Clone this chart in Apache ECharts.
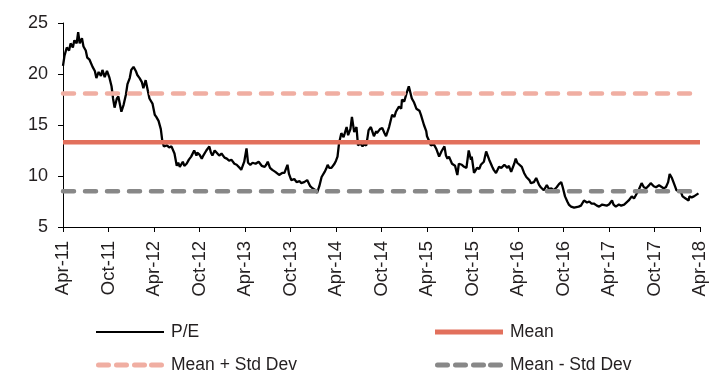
<!DOCTYPE html>
<html>
<head>
<meta charset="utf-8">
<script src="https://cdn.jsdelivr.net/npm/echarts@6/dist/echarts.min.js"></script>
<style>
  html, body { margin: 0; padding: 0; background: #ffffff; }
  #chart { width: 723px; height: 372px; }
</style>
</head>
<body>
<div id="chart"></div>
<script>
// Months elapsed since April 2011, and the P/E reading at each point
const peMonths = [
  0, 0.2, 0.5, 0.8, 1.0, 1.3, 1.5, 1.8, 2.0, 2.2, 2.5, 2.7, 3.0, 3.2, 3.5, 3.9, 4.2, 4.4, 4.7, 5.0,
  5.2, 5.5, 5.8, 6.1, 6.4, 6.6, 6.8, 7.1, 7.3, 7.7, 8.0, 8.3, 8.5, 8.8, 9.0, 9.3, 9.6, 9.8, 10.1, 10.4,
  10.6, 10.9, 11.2, 11.4, 11.8, 12.1, 12.3, 12.6, 12.9, 13.1, 13.3, 13.7, 14.0, 14.3, 14.7, 15.0, 15.2, 15.4, 15.8, 16.0,
  16.3, 16.6, 16.9, 17.3, 17.6, 17.7, 18.0, 18.3, 18.5, 18.9, 19.3, 19.5, 19.7, 20.0, 20.2, 20.6, 20.9, 21.3, 21.6, 21.9,
  22.2, 22.6, 22.9, 23.3, 23.5, 23.9, 24.2, 24.4, 24.7, 25.0, 25.4, 25.8, 26.2, 26.6, 26.8, 27.0, 27.3, 27.6, 28.0, 28.5,
  28.9, 29.2, 29.6, 29.8, 30.1, 30.5, 30.8, 31.2, 31.4, 31.8, 32.2, 32.6, 32.9, 33.3, 33.5, 33.8, 34.1, 34.5, 34.7, 34.9,
  35.1, 35.4, 35.8, 36.0, 36.2, 36.4, 36.7, 37.0, 37.1, 37.4, 37.6, 37.9, 38.1, 38.4, 38.7, 38.9, 39.2, 39.5, 39.7, 40.0,
  40.3, 40.6, 41.0, 41.3, 41.4, 41.8, 42.1, 42.4, 42.6, 43.0, 43.4, 43.7, 43.9, 44.3, 44.6, 44.7, 45.0, 45.3, 45.5, 45.6,
  45.9, 46.0, 46.3, 46.6, 47.0, 47.2, 47.6, 47.9, 48.0, 48.3, 48.5, 48.9, 49.2, 49.6, 49.9, 50.3, 50.5, 50.7, 50.9, 51.3,
  51.7, 52.0, 52.2, 52.6, 52.9, 53.2, 53.5, 53.8, 53.9, 54.2, 54.6, 54.9, 55.1, 55.5, 55.8, 56.0, 56.2, 56.6, 56.8, 57.1,
  57.5, 57.8, 58.2, 58.6, 58.8, 59.1, 59.5, 59.7, 59.9, 60.1, 60.5, 60.8, 61.1, 61.5, 61.7, 62.1, 62.4, 62.5, 62.8, 63.0,
  63.4, 63.8, 64.1, 64.4, 64.7, 65.1, 65.4, 65.7, 65.9, 66.2, 66.5, 66.7, 67.0, 67.4, 67.6, 68.0, 68.3, 68.7, 69.1, 69.4,
  69.7, 70.0, 70.4, 70.7, 71.1, 71.3, 71.7, 72.0, 72.4, 72.6, 72.9, 73.3, 73.6, 74.0, 74.2, 74.6, 75.0, 75.3, 75.5, 75.9,
  76.3, 76.6, 76.9, 77.3, 77.5, 77.9, 78.2, 78.6, 78.8, 79.2, 79.5, 79.8, 80.0, 80.3, 80.4, 80.7, 80.9, 81.2, 81.5, 81.7,
  82.1, 82.5, 82.6, 82.9, 83.2, 83.4, 83.8
];
const peValues = [
  20.8, 21.8, 22.6, 22.3, 23.0, 22.6, 23.3, 23.0, 24.1, 23.0, 23.5, 22.7, 22.3, 21.6, 21.4, 20.7, 20.3, 19.6, 20.2, 19.8,
  20.4, 19.7, 20.3, 19.7, 18.8, 17.6, 16.7, 17.6, 17.8, 16.3, 17.0, 18.0, 19.0, 19.6, 20.4, 20.7, 20.3, 19.9, 19.6, 19.2,
  18.6, 19.4, 18.3, 17.6, 17.1, 16.0, 15.8, 15.4, 14.6, 13.4, 12.9, 13.0, 12.8, 12.9, 12.2, 11.0, 11.3, 10.9, 11.4, 11.0,
  11.2, 11.6, 11.9, 12.5, 12.0, 12.3, 12.1, 11.7, 12.0, 12.5, 12.9, 12.3, 12.0, 12.5, 12.4, 12.0, 12.2, 11.8, 11.7, 11.5,
  11.6, 11.2, 11.1, 10.8, 10.6, 11.4, 12.7, 11.3, 11.1, 11.3, 11.2, 11.4, 11.0, 10.9, 11.1, 11.4, 10.8, 10.6, 10.4, 10.1,
  10.3, 10.3, 11.1, 10.2, 9.6, 9.7, 9.4, 9.5, 9.3, 9.4, 9.6, 9.0, 8.8, 8.6, 8.35, 9.0, 9.9, 10.4, 10.7, 11.1,
  10.8, 10.8, 11.2, 11.5, 11.9, 13.2, 14.2, 13.8, 13.9, 14.8, 14.0, 14.6, 15.8, 14.3, 14.8, 13.0, 13.2, 12.9, 13.1, 13.0,
  14.5, 14.8, 13.9, 14.4, 14.2, 14.6, 14.7, 14.2, 13.9, 14.8, 16.0, 15.8, 16.3, 16.8, 16.6, 17.5, 17.3, 18.1, 18.0, 18.8,
  17.9, 17.6, 17.2, 16.6, 16.4, 16.0, 15.0, 14.4, 13.9, 13.4, 13.0, 13.1, 12.7, 11.9, 12.4, 12.9, 12.0, 11.7, 11.9, 11.2,
  11.0, 10.1, 11.2, 11.1, 10.9, 10.8, 12.5, 11.6, 11.9, 10.3, 10.8, 10.7, 11.1, 11.4, 12.4, 12.3, 11.6, 10.9, 10.6, 10.3,
  10.9, 10.8, 11.1, 10.8, 11.0, 10.4, 11.2, 11.7, 11.3, 11.2, 10.9, 10.3, 9.9, 9.6, 9.3, 9.4, 9.8, 9.7, 9.1, 8.9,
  8.6, 9.1, 8.7, 8.8, 8.6, 8.9, 9.2, 9.4, 8.9, 8.0, 7.5, 7.2, 7.0, 6.9, 6.8, 7.0, 7.1, 7.6, 7.4, 7.5,
  7.3, 7.3, 7.1, 7.0, 7.2, 7.3, 7.1, 7.2, 7.6, 7.2, 7.0, 7.2, 7.1, 7.2, 7.3, 7.6, 8.0, 7.8, 7.9, 8.6,
  9.3, 8.9, 8.8, 9.1, 9.3, 9.0, 8.9, 9.1, 9.1, 8.8, 8.9, 9.4, 10.2, 9.8, 9.6, 9.0, 8.6, 8.5, 8.4, 8.0,
  7.8, 7.6, 8.0, 7.9, 8.0, 8.1, 8.3
];

// Long-run average and one standard deviation band
const peMean = 13.3;
const peStd = 4.8;

// Tick labels every six months, Apr-11 through Apr-18
const tickLabels = [
  'Apr-11', 'Oct-11', 'Apr-12', 'Oct-12', 'Apr-13', 'Oct-13', 'Apr-14', 'Oct-14',
  'Apr-15', 'Oct-15', 'Apr-16', 'Oct-16', 'Apr-17', 'Oct-17', 'Apr-18'
];
const yTicks = [5, 10, 15, 20, 25];

const seriesNames = ['P/E', 'Mean', 'Mean + Std Dev', 'Mean - Std Dev'];
const spanEnd = (tickLabels.length - 1) * 6;

const peData = peMonths.map((m, i) => [m, peValues[i]]);
const flat = v => [[0, v], [spanEnd, v]];

const FONT = 'Liberation Sans';
const TEXT = '#231f20';
const COLORS = { pe: '#000000', mean: '#E2705C', upper: '#F0AEA2', lower: '#888888' };

// Legend keys: a plain bar for solid lines, four rounded dashes for dashed ones
const thinIcon = 'path://M0,0h68v2.2h-68z';
const thickIcon = 'path://M0,0h68v5h-68z';
const dash = x => `M${x + 2.5},0h10a2.5,2.5 0 0 1 0,5h-10a2.5,2.5 0 0 1 0,-5z`;
const dashIcon = 'path://' + dash(0) + dash(18) + dash(36) + dash(53);

const chart = echarts.init(document.getElementById('chart'), null, { renderer: 'canvas' });

const legendItem = (name, icon, height, color, left, top) => ({
  data: [{ name: name, icon: icon, itemStyle: { color: color } }],
  left: left,
  top: top,
  padding: 0,
  itemWidth: 68,
  itemHeight: height,
  selectedMode: false,
  textStyle: { fontFamily: FONT, fontSize: 17.5, color: TEXT, padding: [0, 0, 0, 2] }
});

chart.setOption({
  animation: false,
  backgroundColor: '#ffffff',
  grid: { left: 63, right: 23, top: 23, bottom: 145, containLabel: false },
  legend: [
    legendItem(seriesNames[0], thinIcon, 2.2, COLORS.pe, 96, 323),
    legendItem(seriesNames[1], thickIcon, 5, COLORS.mean, 435, 323),
    legendItem(seriesNames[2], dashIcon, 5, COLORS.upper, 96, 356),
    legendItem(seriesNames[3], dashIcon, 5, COLORS.lower, 435, 356)
  ],
  xAxis: {
    type: 'value',
    min: 0,
    max: spanEnd,
    interval: 6,
    axisLine: { show: true, onZero: false, lineStyle: { color: '#000', width: 1 } },
    axisTick: { show: true, length: 5, lineStyle: { color: '#000' } },
    splitLine: { show: false },
    axisLabel: {
      rotate: 90,
      margin: 14,
      fontFamily: FONT,
      fontSize: 18.5,
      color: TEXT,
      formatter: v => tickLabels[Math.round(v / 6)] || ''
    }
  },
  yAxis: {
    type: 'value',
    min: yTicks[0],
    max: yTicks[yTicks.length - 1],
    interval: 5,
    axisLine: { show: true, lineStyle: { color: '#000', width: 1 } },
    axisTick: { show: true, length: 5, lineStyle: { color: '#000' } },
    splitLine: { show: false },
    axisLabel: { margin: 15, fontFamily: FONT, fontSize: 18, color: TEXT }
  },
  series: [
    {
      name: seriesNames[0],
      type: 'line',
      data: peData,
      symbol: 'none',
      lineStyle: { color: COLORS.pe, width: 2.3 },
      itemStyle: { color: COLORS.pe },
      z: 2
    },
    {
      name: seriesNames[1],
      type: 'line',
      data: flat(peMean),
      symbol: 'none',
      lineStyle: { color: COLORS.mean, width: 4.5 },
      itemStyle: { color: COLORS.mean },
      z: 3
    },
    {
      name: seriesNames[2],
      type: 'line',
      data: flat(peMean + peStd),
      symbol: 'none',
      lineStyle: { color: COLORS.upper, width: 4.5, type: [11, 11], cap: 'round' },
      itemStyle: { color: COLORS.upper },
      z: 3
    },
    {
      name: seriesNames[3],
      type: 'line',
      data: flat(peMean - peStd),
      symbol: 'none',
      lineStyle: { color: COLORS.lower, width: 4.5, type: [11, 11], cap: 'round' },
      itemStyle: { color: COLORS.lower },
      z: 3
    }
  ]
});
</script>
</body>
</html>
